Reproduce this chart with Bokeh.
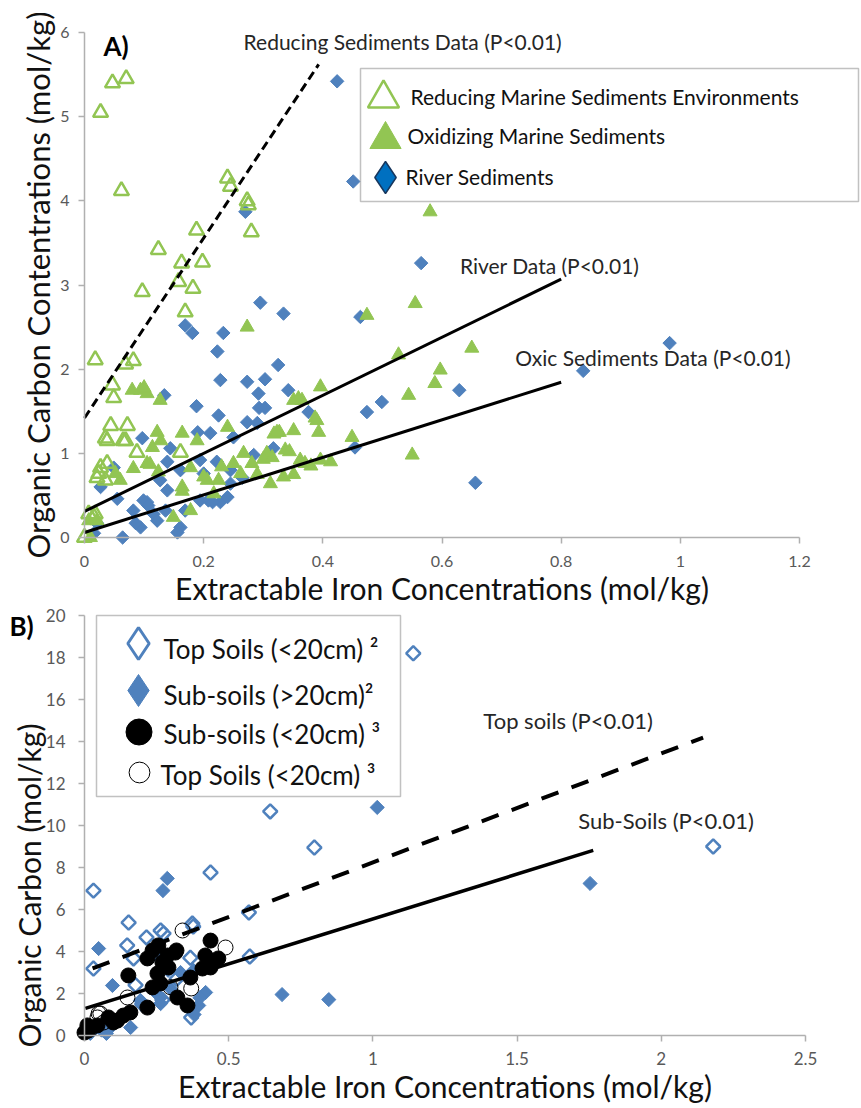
import numpy as np
from bokeh.plotting import figure
from bokeh.models import Range1d, FixedTicker, Label, Legend, LegendItem, BoxAnnotation
from bokeh.layouts import column
from bokeh.embed import file_html
from bokeh.resources import INLINE

FONT = "Lato"
GREEN = "#92C553"
BLUE = "#4F81BD"

# ---------------- Panel A: sediments ----------------
reducing_x = [0.027, 0.047, 0.070, 0.062, 0.240, 0.245, 0.273, 0.275, 0.280, 0.188, 0.124, 0.163,
              0.198, 0.097, 0.158, 0.182, 0.169, 0.018, 0.069, 0.082, 0.047, 0.049, 0.044, 0.072,
              0.038, 0.069, 0.088, 0.027, 0.038, 0.021, 0.035, 0.007, 0.018, 0.000, 0.161, 0.035,
              0.065, 0.024, 0.016]
reducing_y = [5.05, 5.40, 5.45, 4.12, 4.27, 4.17, 4.00, 3.95, 3.63, 3.65, 3.42, 3.26,
              3.27, 2.92, 3.04, 2.96, 2.68, 2.11, 2.06, 2.10, 1.81, 1.66, 1.33, 1.33,
              1.15, 1.15, 1.01, 0.83, 0.88, 0.71, 0.68, 0.28, 0.28, 0.00, 1.01, 1.18,
              1.15, 0.76, 0.24]

oxid_x = [0.555, 0.273, 0.474, 0.527, 0.544, 0.550, 0.580, 0.650, 0.597, 0.588, 0.396, 0.351,
          0.365, 0.390, 0.393, 0.351, 0.318, 0.327, 0.449, 0.396, 0.413, 0.362, 0.337, 0.344,
          0.306, 0.334, 0.351, 0.312, 0.267, 0.240, 0.281, 0.262, 0.250, 0.225, 0.217, 0.206,
          0.164, 0.189, 0.178, 0.164, 0.164, 0.178, 0.149, 0.122, 0.128, 0.114, 0.105, 0.110,
          0.124, 0.082, 0.060, 0.080, 0.094, 0.105, 0.100, 0.127, 0.052, 0.007, 0.021, 0.010,
          0.230, 0.200, 0.290, 0.370, 0.380, 0.300, 0.359, 0.387, 0.323, 0.315]
oxid_y = [2.78, 2.50, 2.64, 2.17, 1.69, 0.98, 3.87, 2.25, 1.99, 1.83, 1.79, 1.63,
          1.63, 1.39, 1.25, 1.27, 1.23, 1.25, 1.19, 0.92, 0.90, 0.92, 1.04, 1.02,
          1.00, 0.72, 0.75, 0.64, 1.00, 1.31, 0.88, 0.76, 0.88, 0.68, 0.52, 0.68,
          1.24, 1.15, 0.83, 0.60, 0.55, 0.32, 0.24, 1.25, 1.15, 1.07, 0.88, 0.87,
          0.78, 0.82, 0.68, 1.75, 1.75, 1.71, 1.78, 1.63, 0.76, 0.20, 0.20, 0.00,
          0.84, 0.72, 0.75, 0.88, 0.85, 0.93, 1.65, 1.42, 1.25, 0.95]

river_x = [0.424, 0.451, 0.270, 0.565, 0.982, 0.837, 0.629, 0.656, 0.295, 0.334, 0.463, 0.169,
           0.181, 0.233, 0.223, 0.325, 0.228, 0.273, 0.303, 0.292, 0.342, 0.134, 0.188, 0.293,
           0.303, 0.474, 0.499, 0.376, 0.225, 0.097, 0.144, 0.190, 0.211, 0.273, 0.250, 0.317,
           0.284, 0.194, 0.222, 0.200, 0.139, 0.161, 0.454, 0.245, 0.027, 0.049, 0.055, 0.127,
           0.139, 0.082, 0.105, 0.116, 0.094, 0.064, 0.021, 0.161, 0.169, 0.194, 0.208, 0.228,
           0.245, 0.136, 0.122, 0.016, 0.099, 0.107, 0.086, 0.156, 0.215, 0.240, 0.265, 0.290]
river_y = [5.42, 4.23, 3.87, 3.26, 2.31, 1.98, 1.75, 0.65, 2.79, 2.66, 2.62, 2.52,
           2.43, 2.43, 2.21, 2.05, 1.87, 1.85, 1.88, 1.71, 1.75, 1.69, 1.56, 1.54,
           1.54, 1.49, 1.61, 1.49, 1.45, 1.18, 1.06, 1.25, 1.24, 1.37, 1.19, 1.06,
           0.98, 0.92, 0.90, 0.76, 0.90, 0.80, 1.07, 0.80, 0.60, 0.83, 0.46, 0.68,
           0.56, 0.32, 0.42, 0.28, 0.12, 0.00, 0.17, 0.12, 0.32, 0.44, 0.44, 0.42,
           0.64, 0.32, 0.20, 0.05, 0.44, 0.38, 0.17, 0.06, 0.42, 0.48, 0.71, 1.36]

# regression fits: (x start, x end, slope, intercept)
fit_reducing = (0.0, 0.393, 10.69, 1.42)
fit_river = (0.0, 0.80, 3.45, 0.31)
fit_oxic = (0.0, 0.80, 2.23, 0.06)

top_xticks = [0, 0.2, 0.4, 0.6, 0.8, 1.0, 1.2]
top_xlabels = ["0", "0.2", "0.4", "0.6", "0.8", "1", "1.2"]
top_yticks = [0, 1, 2, 3, 4, 5, 6]

# ---------------- Panel B: soils ----------------
top2_x = [1.140, 0.644, 0.797, 0.437, 0.031, 2.180, 0.570, 0.153, 0.215, 0.274, 0.377, 0.148,
          0.170, 0.031, 0.573, 0.370, 0.367, 0.177, 0.240, 0.100, 0.060, 0.200, 0.320, 0.270,
          0.264, 0.374]
top2_y = [18.2, 10.67, 8.95, 7.76, 6.9, 9.0, 5.86, 5.38, 4.67, 4.86, 5.19, 4.29,
          3.67, 3.19, 3.76, 0.86, 3.7, 2.4, 3.9, 0.6, 0.3, 1.5, 2.7, 1.7,
          5.0, 5.33]

sub2_x = [1.015, 0.287, 0.272, 1.753, 0.049, 0.097, 0.685, 0.847, 0.420, 0.396, 0.160, 0.076,
          0.264, 0.264, 0.333, 0.378, 0.290, 0.240, 0.080, 0.060, 0.194, 0.380, 0.400, 0.300,
          0.020]
sub2_y = [10.86, 7.48, 6.9, 7.24, 4.14, 2.38, 1.95, 1.71, 2.05, 1.43, 0.38, 0.10,
          1.81, 1.52, 3.0, 3.1, 3.1, 2.14, 0.24, 0.50, 1.67, 1.0, 1.8, 2.2,
          0.1]

sub3_x = [0.014, 0.045, 0.114, 0.135, 0.159, 0.218, 0.236, 0.263, 0.152, 0.218, 0.236, 0.256,
          0.270, 0.291, 0.315, 0.288, 0.367, 0.322, 0.357, 0.437, 0.419, 0.464, 0.409, 0.437,
          0.253, 0.083, 0.100, 0.010, 0.000, 0.319]
sub3_y = [0.24, 0.48, 0.71, 0.95, 1.10, 1.33, 2.29, 2.48, 2.86, 3.67, 4.05, 4.29,
          3.48, 3.24, 3.95, 3.81, 2.76, 1.81, 1.43, 4.52, 3.81, 3.67, 3.19, 3.24,
          2.95, 0.86, 0.62, 0.48, 0.14, 4.05]

top3_x = [0.340, 0.489, 0.370, 0.149, 0.049, 0.055, 0.066, 0.045, 0.298, 0.020]
top3_y = [5.0, 4.19, 2.24, 1.81, 1.05, 1.05, 0.62, 0.86, 2.3, 0.3]

fit_top_soils = (0.028, 2.145, 5.19, 3.05)
fit_sub_soils = (0.003, 1.764, 4.27, 1.28)

bot_xticks = [0, 0.5, 1.0, 1.5, 2.0, 2.5]
bot_xlabels = ["0", "0.5", "1", "1.5", "2", "2.5"]
bot_yticks = list(range(0, 21, 2))

PAGE_W = 861
SPLIT = 606          # page row where panel B starts
PAGE_H = 1108


def make_panel(height, x_origin, x_px_per_unit, y_origin, y_px_per_unit):
    """Figure whose plotting frame fills the whole canvas; axes sit at the data origin."""
    x0 = -x_origin / x_px_per_unit
    x1 = (PAGE_W - x_origin) / x_px_per_unit
    y0 = -(height - y_origin) / y_px_per_unit
    y1 = y_origin / y_px_per_unit
    p = figure(width=PAGE_W, height=height, x_range=Range1d(x0, x1), y_range=Range1d(y0, y1),
               output_backend="svg", toolbar_location=None,
               min_border_left=0, min_border_right=0, min_border_top=0, min_border_bottom=0)
    p.xaxis.fixed_location = 0
    p.yaxis.fixed_location = 0
    return p


def style(p, xticks, xlabels, yticks, tick_px, title_px, x_standoff, y_standoff):
    p.outline_line_color = None
    p.xgrid.grid_line_color = None
    p.ygrid.grid_line_color = None
    p.xaxis.ticker = FixedTicker(ticks=xticks)
    p.xaxis.major_label_overrides = {t: l for t, l in zip(xticks, xlabels)}
    p.yaxis.ticker = FixedTicker(ticks=yticks)
    p.yaxis.major_label_overrides = {t: str(t) for t in yticks}
    p.xaxis.bounds = (xticks[0], xticks[-1])
    p.yaxis.bounds = (yticks[0], yticks[-1])
    for ax in (p.xaxis, p.yaxis):
        ax.axis_line_color = "#B0B0B0"
        ax.axis_line_width = 1.5
        ax.major_tick_line_color = "#B0B0B0"
        ax.major_tick_line_width = 1.5
        ax.major_tick_in = 0
        ax.major_tick_out = 6
        ax.minor_tick_line_color = None
        ax.major_label_text_font = FONT
        ax.major_label_text_font_size = tick_px
        ax.major_label_text_color = "#595959"
        ax.axis_label_text_font = FONT
        ax.axis_label_text_font_size = title_px
        ax.axis_label_text_font_style = "normal"
        ax.axis_label_text_color = "#111111"
        ax.axis_label_standoff = 0
    p.xaxis.major_label_standoff = x_standoff
    p.yaxis.major_label_standoff = y_standoff


def fit_line(p, fit, dash, width):
    x0, x1, slope, icpt = fit
    xs = np.array([x0, x1])
    p.line(xs, slope * xs + icpt, line_color="black", line_width=width, line_dash=dash)


class Page:
    """Places annotations by page pixel position inside one panel."""

    def __init__(self, p, page_bottom):
        self.p = p
        self.bottom = page_bottom

    def sy(self, y):
        return self.bottom - y

    def box(self, left, right, top, bottom):
        self.p.add_layout(BoxAnnotation(left=left, right=right, top=self.sy(top),
                                        bottom=self.sy(bottom),
                                        left_units="screen", right_units="screen",
                                        top_units="screen", bottom_units="screen",
                                        fill_color="white", fill_alpha=1.0,
                                        line_color="#333333", line_width=1.5))

    def key(self, renderer, cx, cy, size):
        # one transparent legend per key so each symbol is drawn at legend scale
        g = int(round(size / 0.4))
        loc = (int(round(cx - g / 2)), int(round(self.sy(cy) - g / 2)))
        self.p.add_layout(Legend(items=[LegendItem(label=" ", renderers=[renderer])],
                                 location=loc, glyph_width=g, glyph_height=g,
                                 padding=0, margin=0, spacing=0, label_standoff=0,
                                 label_width=1, label_text_font_size="1px",
                                 border_line_color=None, background_fill_alpha=0,
                                 inactive_fill_alpha=0))

    def text(self, text, x, y, px, bold=False, color="#111111", angle=0.0, align="left"):
        self.p.add_layout(Label(x=x, y=self.sy(y), x_units="screen", y_units="screen",
                                text=text, text_font=FONT, text_font_size=px,
                                text_font_style="bold" if bold else "normal",
                                text_baseline="middle", text_align=align,
                                angle=angle, text_color=color))


# ---- Panel A: origin at page (84, 537); 0.2 units = 119.2 px, 1 unit = 84.17 px
p1 = make_panel(SPLIT, 84, 715 / 1.2, 537, 505 / 6)
style(p1, top_xticks, top_xlabels, top_yticks, "16px", "30px", 12, 9)
p1.xaxis.axis_label = "Extractable Iron Concentrations (mol/kg)"
p1.yaxis.axis_label = "Organic Carbon Contentrations (mol/kg)"
p1.yaxis.axis_label_text_font_size = "31px"

r_river = p1.scatter(river_x, river_y, marker="square", angle=np.pi / 4, size=9.5,
                     fill_color=BLUE, line_color=BLUE, line_width=1)
r_oxid = p1.scatter(oxid_x, oxid_y, marker="triangle", size=14,
                    fill_color=GREEN, line_color=GREEN, line_width=1)
r_red = p1.scatter(reducing_x, reducing_y, marker="triangle", size=15,
                   fill_color=None, line_color=GREEN, line_width=2.5)
key_river = p1.scatter(river_x, river_y, marker="diamond", fill_color="#0070C0",
                       line_color="#17375E", line_width=1.5, visible=False)

fit_line(p1, fit_reducing, "9 5", 3)
fit_line(p1, fit_river, "solid", 3)
fit_line(p1, fit_oxic, "solid", 3)

for text, x, y in [("Reducing Sediments Data (P<0.01)", 0.267, 5.89),
                   ("River Data (P<0.01)", 0.630, 3.23),
                   ("Oxic Sediments Data (P<0.01)", 0.723, 2.14)]:
    p1.add_layout(Label(x=x, y=y, text=text, text_font=FONT, text_font_size="21px",
                        text_baseline="middle", text_color="#262626"))

a = Page(p1, SPLIT)
a.text("A)", 103, 45, "26px", bold=True, color="black")
a.box(360, 858, 68, 201)
a.key(r_red, 383.5, 98, 31)
a.key(r_oxid, 385.5, 139, 31)
a.key(key_river, 385, 177, 32)
a.text("Reducing Marine Sediments Environments", 410, 96, "21px")
a.text("Oxidizing Marine Sediments", 407, 135, "21px")
a.text("River Sediments", 405, 176, "21px")

# ---- Panel B: origin at page (84, 1035); 1 unit = 288.4 px across, 21 px up
p2 = make_panel(PAGE_H - SPLIT, 84, 721 / 2.5, 1035 - SPLIT, 21)
style(p2, bot_xticks, bot_xlabels, bot_yticks, "17px", "30px", 10, 13)
p2.xaxis.axis_label = "Extractable Iron Concentrations (mol/kg)"

p2.scatter(top2_x, top2_y, marker="square", angle=np.pi / 4, size=10,
           fill_color=None, line_color=BLUE, line_width=2.5)
p2.scatter(sub2_x, sub2_y, marker="square", angle=np.pi / 4, size=10,
           fill_color=BLUE, line_color=BLUE, line_width=1)
r_top3 = p2.scatter(top3_x, top3_y, marker="circle", size=15,
                    fill_color=None, line_color="black", line_width=1)
r_sub3 = p2.scatter(sub3_x, sub3_y, marker="circle", size=15,
                    fill_color="black", line_color="black", line_width=1)
key_top2 = p2.scatter(top2_x, top2_y, marker="diamond", fill_color=None, line_color=BLUE,
                      line_width=3, visible=False)
key_sub2 = p2.scatter(sub2_x, sub2_y, marker="diamond", fill_color=BLUE, line_color=BLUE,
                      line_width=1, visible=False)

fit_line(p2, fit_top_soils, "18 14", 4)
fit_line(p2, fit_sub_soils, "solid", 3.5)

for text, x, y in [("Top soils (P<0.01)", 1.383, 15.0),
                   ("Sub-Soils (P<0.01)", 1.712, 10.24)]:
    p2.add_layout(Label(x=x, y=y, text=text, text_font=FONT, text_font_size="22px",
                        text_baseline="middle", text_color="#262626"))

b = Page(p2, PAGE_H)
b.text("Organic Carbon (mol/kg)", 28, 885, "30px", angle=np.pi / 2, align="center")
b.text("B)", 9, 625, "26px", bold=True, color="black")
b.box(96, 400, 615, 796)
b.key(key_top2, 138, 643, 32)
b.key(key_sub2, 138, 690, 32)
b.key(r_sub3, 138, 731, 26)
b.key(r_top3, 139, 772, 21)
b.text("Top Soils (<20cm) \u00b2", 163, 648, "26px")
b.text("Sub-soils (>20cm)\u00b2", 163, 694, "26px")
b.text("Sub-soils (<20cm) \u00b3", 163, 733, "26px")
b.text("Top Soils (<20cm) \u00b3", 160, 774, "26px")

layout = column(p1, p2, spacing=0)
open("out.html", "w").write(file_html(layout, INLINE))
